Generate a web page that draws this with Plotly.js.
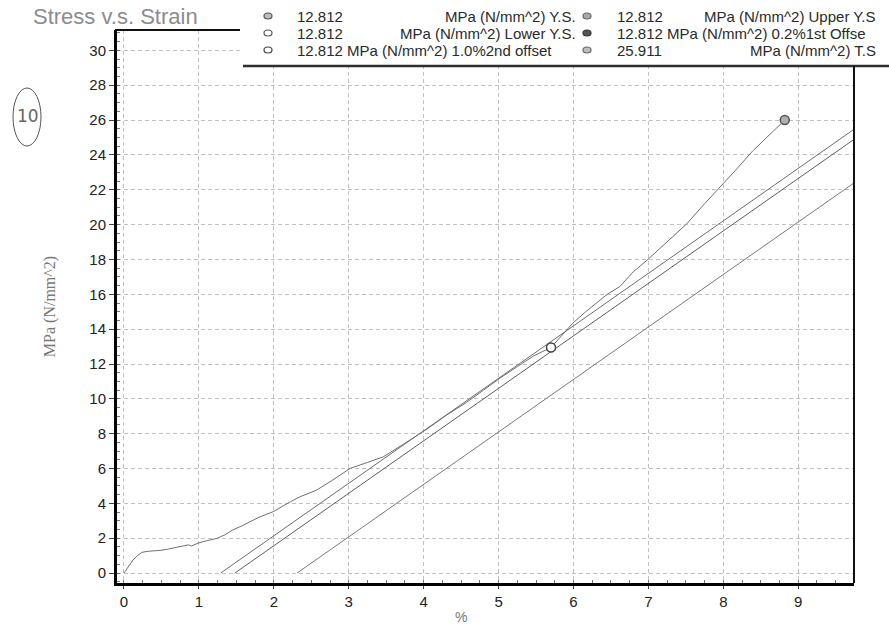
<!DOCTYPE html>
<html>
<head>
<meta charset="utf-8">
<script src="https://cdn.plot.ly/plotly-3.0.1.min.js"></script>
<style>
html,body{margin:0;padding:0;background:#fff;}
#chart{width:889px;height:631px;}
</style>
</head>
<body>
<div id="chart"></div>
<script>
// Measured stress-strain curve (strain %, stress MPa)
const strain = [0, 0.06, 0.12, 0.18, 0.24, 0.32, 0.39, 0.48, 0.57, 0.67, 0.77, 0.86, 0.9, 0.99, 1.1, 1.24, 1.35, 1.45, 1.57, 1.68, 1.8, 1.99, 2.1, 2.22, 2.35, 2.57, 2.75, 3.02, 3.25, 3.46, 3.75, 4.05, 4.3, 4.57, 4.8, 5.03, 5.25, 5.47, 5.7, 5.99, 6.15, 6.3, 6.45, 6.62, 6.8, 6.98, 7.25, 7.51, 7.75, 7.96, 8.18, 8.39, 8.6, 8.76, 8.82];
const stress = [0, 0.4, 0.75, 1.0, 1.19, 1.25, 1.26, 1.3, 1.36, 1.45, 1.55, 1.62, 1.55, 1.72, 1.85, 1.99, 2.2, 2.47, 2.7, 2.94, 3.2, 3.52, 3.8, 4.09, 4.38, 4.76, 5.24, 6.01, 6.35, 6.67, 7.45, 8.28, 9.05, 9.79, 10.5, 11.22, 11.85, 12.47, 12.95, 14.34, 14.95, 15.45, 16.0, 16.45, 17.3, 17.95, 19.0, 20.04, 21.2, 22.15, 23.2, 24.22, 25.1, 25.75, 26.0];

// Straight reference lines (modulus line, 0.2% offset, 1.0% offset)
const modulusX = [1.29, 9.78];
const modulusY = [0, 25.58];
const offset1X = [1.48, 9.78];
const offset1Y = [0, 25.0];
const offset2X = [2.31, 9.78];
const offset2Y = [0, 22.5];

// Marked points
const yieldX = [5.7];
const yieldY = [12.95];
const tensileX = [8.82];
const tensileY = [26.0];

// Tick values
const xTicks = [0, 1, 2, 3, 4, 5, 6, 7, 8, 9];
const yTicks = [0, 2, 4, 6, 8, 10, 12, 14, 16, 18, 20, 22, 24, 26, 28, 30];

// Result legend texts
const resultValues = ["12.812", "12.812", "12.812", "12.812", "12.812", "25.911"];
const resultLabels = ["MPa (N/mm^2) Y.S.", "MPa (N/mm^2) Lower Y.S.", "MPa (N/mm^2) 1.0%2nd offset",
                      "MPa (N/mm^2) Upper Y.S", "MPa (N/mm^2) 0.2%1st Offse", "MPa (N/mm^2) T.S"];

const W = 889, H = 631, ML = 117, MR = 35, MT = 30, MB = 48;
const PW = W - ML - MR, PH = H - MT - MB;
const px = x => (x - ML) / PW;
const py = y => (H - MB - y) / PH;

const traces = [
  {x: modulusX, y: modulusY, mode: 'lines', line: {color: '#6e6e6e', width: 1}, hoverinfo: 'skip', showlegend: false},
  {x: offset1X, y: offset1Y, mode: 'lines', line: {color: '#5e5e5e', width: 1}, hoverinfo: 'skip', showlegend: false},
  {x: offset2X, y: offset2Y, mode: 'lines', line: {color: '#7a7a7a', width: 1}, hoverinfo: 'skip', showlegend: false},
  {x: strain, y: stress, mode: 'lines', line: {color: '#707070', width: 1}, showlegend: false},
  {x: yieldX, y: yieldY, mode: 'markers', marker: {size: 9, color: '#ffffff', line: {color: '#444', width: 1.5}}, showlegend: false},
  {x: tensileX, y: tensileY, mode: 'markers', marker: {size: 9, color: '#b0b0b0', line: {color: '#555', width: 1.5}}, showlegend: false}
];

const font = 'Arial, "Liberation Sans", sans-serif';

const shapes = [
  // white legend box covering plot top-right
  {type: 'rect', xref: 'paper', yref: 'paper', x0: px(242), x1: px(895), y0: py(65), y1: py(-5), fillcolor: '#ffffff', line: {width: 0}, layer: 'above'},
  // legend bottom rule
  {type: 'line', xref: 'paper', yref: 'paper', x0: px(243), x1: px(889), y0: py(66), y1: py(66), line: {color: '#2e2e2e', width: 2.5}, layer: 'above'},
  // top frame (left part)
  {type: 'line', xref: 'paper', yref: 'paper', x0: px(115), x1: px(240), y0: 1, y1: 1, line: {color: '#111', width: 2}, layer: 'above'},
  // right frame
  {type: 'line', xref: 'paper', yref: 'paper', x0: 1, x1: 1, y0: 0, y1: py(66), line: {color: '#111', width: 2}, layer: 'above'},
  // handwritten circle
  {type: 'circle', xref: 'paper', yref: 'paper', x0: px(13), x1: px(41), y0: py(146), y1: py(88), line: {color: '#555', width: 1}, layer: 'above'}
];

const markerStyles = [
  {x: 268, y: 16, fill: '#bdbdbd', line: '#555'},
  {x: 268, y: 33, fill: '#ffffff', line: '#555'},
  {x: 268, y: 50, fill: '#ffffff', line: '#444'},
  {x: 587, y: 16, fill: '#a8a8a8', line: '#666'},
  {x: 587, y: 33, fill: '#555555', line: '#333'},
  {x: 587, y: 50, fill: '#bdbdbd', line: '#666'}
];
markerStyles.forEach(m => {
  shapes.push({type: 'circle', xref: 'paper', yref: 'paper', xsizemode: 'pixel', ysizemode: 'pixel',
    xanchor: px(m.x), yanchor: py(m.y), x0: -4, x1: 4, y0: -3, y1: 3,
    fillcolor: m.fill, line: {color: m.line, width: 1.2}, layer: 'above'});
});

const annFont = {family: font, size: 15, color: '#2a2a2a'};
const annotations = [
  {text: 'Stress v.s. Strain', xref: 'paper', yref: 'paper', x: px(31), y: py(16), xanchor: 'left', yanchor: 'middle', showarrow: false,
   font: {family: font, size: 22, color: '#8c8c8c'}},
  {text: '%', xref: 'paper', yref: 'paper', x: px(461), y: py(617), xanchor: 'center', yanchor: 'middle', showarrow: false,
   font: {family: font, size: 14, color: '#777'}},
  {text: '10', xref: 'paper', yref: 'paper', x: px(28), y: py(116), xanchor: 'center', yanchor: 'middle', showarrow: false,
   font: {family: '"DejaVu Sans", sans-serif', size: 17, color: '#666'}}
];
const rowsY = [16, 33, 50];
// column 1
[0, 1].forEach(i => {
  annotations.push({text: resultValues[i], xref: 'paper', yref: 'paper', x: px(295), y: py(rowsY[i]), xanchor: 'left', yanchor: 'middle', showarrow: false, font: annFont});
  annotations.push({text: resultLabels[i], xref: 'paper', yref: 'paper', x: px(578), y: py(rowsY[i]), xanchor: 'right', yanchor: 'middle', showarrow: false, font: annFont});
});
annotations.push({text: resultValues[2] + ' ' + resultLabels[2], xref: 'paper', yref: 'paper', x: px(295), y: py(rowsY[2]), xanchor: 'left', yanchor: 'middle', showarrow: false, font: annFont});
// column 2
annotations.push({text: resultValues[3], xref: 'paper', yref: 'paper', x: px(615), y: py(rowsY[0]), xanchor: 'left', yanchor: 'middle', showarrow: false, font: annFont});
annotations.push({text: resultLabels[3], xref: 'paper', yref: 'paper', x: px(878), y: py(rowsY[0]), xanchor: 'right', yanchor: 'middle', showarrow: false, font: annFont});
annotations.push({text: resultValues[4] + ' ' + resultLabels[4], xref: 'paper', yref: 'paper', x: px(615), y: py(rowsY[1]), xanchor: 'left', yanchor: 'middle', showarrow: false, font: annFont});
annotations.push({text: resultValues[5], xref: 'paper', yref: 'paper', x: px(615), y: py(rowsY[2]), xanchor: 'left', yanchor: 'middle', showarrow: false, font: annFont});
annotations.push({text: resultLabels[5], xref: 'paper', yref: 'paper', x: px(878), y: py(rowsY[2]), xanchor: 'right', yanchor: 'middle', showarrow: false, font: annFont});

const layout = {
  width: W, height: H,
  margin: {l: ML, r: MR, t: MT, b: MB, pad: 0},
  paper_bgcolor: '#ffffff', plot_bgcolor: '#ffffff',
  showlegend: false,
  font: {family: font, size: 15, color: '#222'},
  xaxis: {
    range: [-0.093, 9.744], tickvals: xTicks, ticktext: xTicks.map(String),
    showline: true, linecolor: '#000', linewidth: 3, mirror: false,
    ticks: 'outside', ticklen: 3, tickcolor: '#444',
    showgrid: true, gridcolor: '#c2c2c2', gridwidth: 1, griddash: '4px,3px',
    zeroline: false, tickfont: {family: font, size: 15, color: '#222'},
    minor: {ticks: 'inside', ticklen: 3, dtick: 0.25, tickcolor: '#777', showgrid: false},
    fixedrange: true
  },
  yaxis: {
    range: [-0.57, 31.17], tickvals: yTicks, ticktext: yTicks.map(String),
    showline: true, linecolor: '#000', linewidth: 3, mirror: false,
    ticks: 'outside', ticklen: 5, tickcolor: '#444',
    showgrid: true, gridcolor: '#c2c2c2', gridwidth: 1, griddash: '4px,3px',
    zeroline: false, tickfont: {family: font, size: 15, color: '#222'},
    minor: {ticks: 'inside', ticklen: 3, dtick: 0.5, tickcolor: '#777', showgrid: false},
    title: {text: 'MPa (N/mm^2)', font: {family: '"Liberation Serif", "DejaVu Serif", serif', size: 16, color: '#777'}, standoff: 30},
    fixedrange: true
  },
  shapes: shapes,
  annotations: annotations
};

Plotly.newPlot('chart', traces, layout, {displayModeBar: false, staticPlot: true});
</script>
</body>
</html>
